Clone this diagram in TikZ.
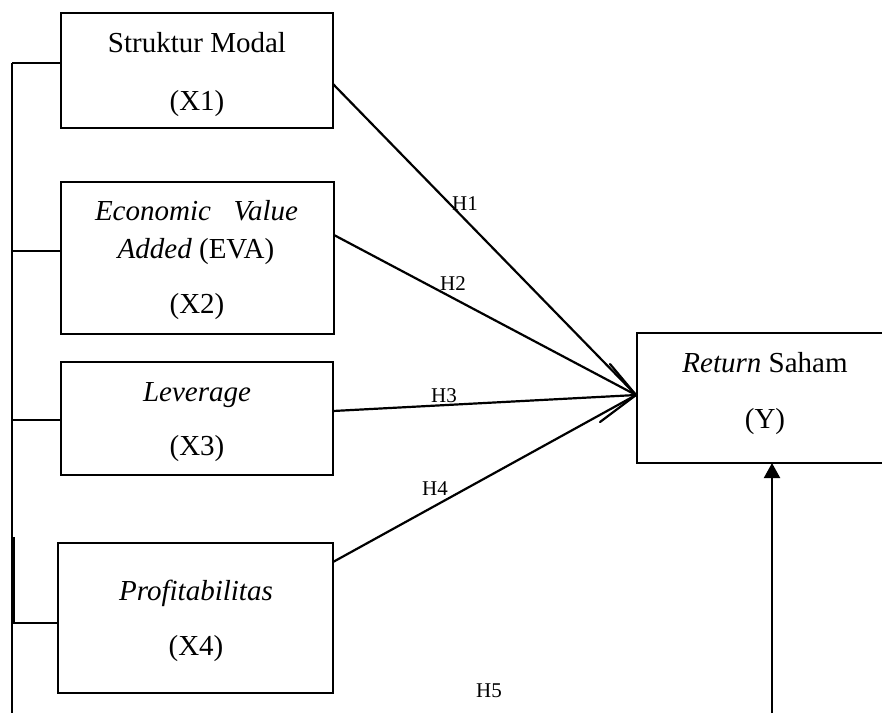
\documentclass[tikz,border=0pt]{standalone}
\usepackage{fontspec}
\setmainfont{Liberation Serif}
\usetikzlibrary{arrows.meta}
\begin{document}
\begin{tikzpicture}[x=1pt,y=-1pt,
  box/.style={draw,line width=2.4pt,rectangle,inner sep=0pt,outer sep=0pt},
  txt/.style={anchor=base,inner sep=0pt,font=\fontsize{29}{34}\selectfont},
  hlab/.style={anchor=base,inner sep=0pt,font=\fontsize{21}{25}\selectfont},
  wire/.style={line width=2.2pt},
  link/.style={line width=2.2pt}]
\useasboundingbox (0,0) rectangle (882,713);
% boxes
\node[box,minimum width=272pt,minimum height=115pt] (b1) at (197,70.5) {};
\node[box,minimum width=273pt,minimum height=152pt] (b2) at (197.5,258) {};
\node[box,minimum width=272pt,minimum height=113pt] (b3) at (197,418.5) {};
\node[box,minimum width=275pt,minimum height=150pt] (b4) at (195.5,618) {};
\node[box,minimum width=283pt,minimum height=130pt] (y) at (778.5,398) {};
% texts
\node[txt] (t1a) at (197,52) {Struktur Modal};
\node[txt] (t1b) at (197,110) {(X1)};
\node[txt] (t2a) at (196.5,220) {\makebox[203pt][s]{\textit{Economic} \textit{Value}}};
\node[txt] (t2b) at (196,258) {\textit{Added} (EVA)};
\node[txt] (t2c) at (197,313) {(X2)};
\node[txt] (t3a) at (197,401) {\textit{Leverage}};
\node[txt] (t3b) at (197,455) {(X3)};
\node[txt] (t4a) at (196,600) {\textit{Profitabilitas}};
\node[txt] (t4b) at (196,655) {(X4)};
\node[txt] (tya) at (765,372) {\textit{Return} Saham};
\node[txt] (tyb) at (765,428) {(Y)};
% hypothesis labels
\node[hlab] (h1) at (465,210) {H1};
\node[hlab] (h2) at (453,290) {H2};
\node[hlab] (h3) at (444,402) {H3};
\node[hlab] (h4) at (435,495) {H4};
\node[hlab] (h5) at (489,697) {H5};
% left bus
\coordinate (bustop) at (12,63);
\coordinate (busbot) at (12,713);
\draw[wire] (bustop) -- (busbot);
\draw[wire] (bustop) -- (b1.west |- bustop);
\draw[wire] (12,251) -- (b2.west |- 12,251);
\draw[wire] (12,420) -- (b3.west |- 12,420);
\draw[wire] (12,623) -- (b4.west |- 12,623);
\draw[line width=2.2pt] (14,537) -- (14,623);
% hypothesis links
\coordinate (tip) at (636,395);
\draw[link] ([yshift=-13.5pt]b1.east) -- (tip);
\draw[link] ([yshift=23pt]b2.east) -- (tip);
\draw[link] ([yshift=7.5pt]b3.east) -- (tip);
\draw[link] ([yshift=56pt]b4.east) -- (tip);
\draw[link,line cap=round] ([shift={(-26,-31)}]tip) -- (tip) -- ([shift={(-36,27)}]tip);
% bottom arrow
\coordinate (ybot) at (772,713);
\draw[link,-{Triangle[length=15pt,width=16pt]}] (ybot) -- (ybot |- y.south);
\end{tikzpicture}
\end{document}
